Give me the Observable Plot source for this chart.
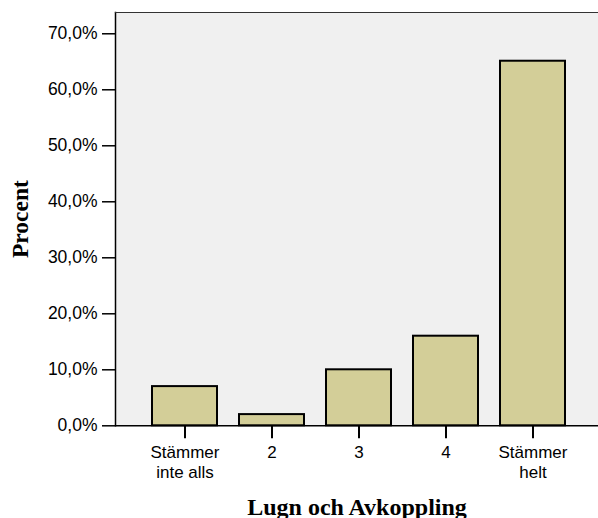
<!DOCTYPE html>
<html>
<head>
<meta charset="utf-8">
<script src="https://cdn.jsdelivr.net/npm/d3@7"></script>
<script src="https://cdn.jsdelivr.net/npm/@observablehq/plot@0.6"></script>
<style>
  html, body { margin: 0; padding: 0; background: #fff; }
</style>
</head>
<body>
<div id="chart"></div>
<script>
const categories = ["Stämmer inte alls", "2", "3", "4", "Stämmer helt"];
const tickLabels = ["Stämmer\ninte alls", "2", "3", "4", "Stämmer\nhelt"];
const percent = [7.0, 2.0, 10.0, 16.0, 65.1];
const yTicks = [0, 10, 20, 30, 40, 50, 60, 70];
const yTitle = "Procent";
const xTitle = "Lugn och Avkoppling";

const data = categories.map((c, i) => ({category: c, value: percent[i]}));
const labelOf = new Map(categories.map((c, i) => [c, tickLabels[i]]));

const chart = Plot.plot({
  width: 598,
  height: 518,
  marginLeft: 115,
  marginRight: 0,
  marginTop: 12,
  marginBottom: 92.7,
  style: {background: "#fff"},
  x: {domain: categories, range: [115, 602.4], paddingInner: 0.25, paddingOuter: 0.405, label: null},
  y: {domain: [0, 73.8], label: null},
  marks: [
    Plot.frame({fill: "#f0f0f0", stroke: null}),
    Plot.frame({anchor: "left", stroke: "#000", strokeWidth: 1.5}),
    Plot.frame({anchor: "top", stroke: "#333", strokeWidth: 1.2}),
    Plot.barY(data, {x: "category", y: "value", fill: "#d3ce98", stroke: "#000", strokeWidth: 2}),
    Plot.ruleY([0], {stroke: "#000", strokeWidth: 1.5}),
    Plot.axisY({
      ticks: yTicks,
      tickFormat: d => d.toFixed(1).replace(".", ",") + "%",
      tickSize: 13,
      tickPadding: 5,
      fontSize: 17.5,
      fontFamily: "Liberation Sans, Arial, sans-serif",
      stroke: "#000",
      strokeWidth: 1.5,
      fill: "#000",
      label: null
    }),
    Plot.axisX({
      tickFormat: d => labelOf.get(d),
      tickSize: 13,
      tickPadding: 5,
      fontSize: 17,
      lineHeight: 1.18,
      fontFamily: "Liberation Sans, Arial, sans-serif",
      stroke: "#000",
      strokeWidth: 2,
      fill: "#000",
      label: null
    }),
    Plot.text([yTitle], {
      frameAnchor: "left", dx: -95, rotate: -90,
      textAnchor: "middle", lineAnchor: "middle",
      fontFamily: "Liberation Serif, Times New Roman, serif",
      fontWeight: "bold", fontSize: 23.5, fill: "#000"
    }),
    Plot.text([xTitle], {
      frameAnchor: "bottom", dy: 82,
      textAnchor: "middle", lineAnchor: "middle",
      fontFamily: "Liberation Serif, Times New Roman, serif",
      fontWeight: "bold", fontSize: 24, fill: "#000"
    })
  ]
});
document.getElementById("chart").appendChild(chart);
</script>
</body>
</html>
